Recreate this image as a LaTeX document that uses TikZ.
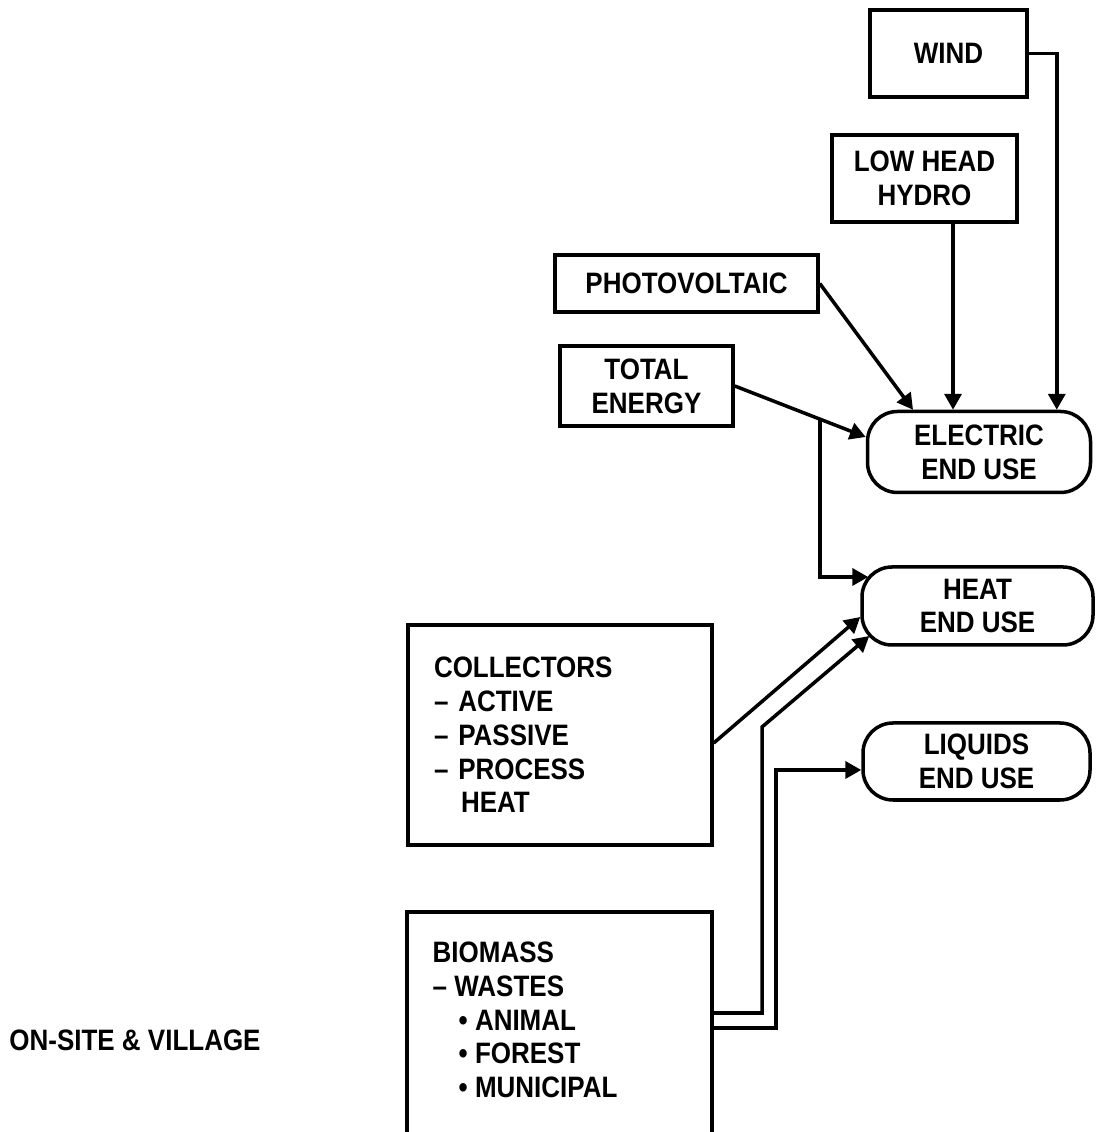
\documentclass[tikz,border=0pt]{standalone}
\usepackage{fontspec}
\setmainfont{Liberation Sans}[FakeStretch=0.88]
\usepackage{tikz}
\usetikzlibrary{arrows.meta}

\tikzset{
  srcbox/.style={draw, line width=1pt, inner sep=0pt, align=center},
  usebox/.style={draw, line width=1pt, rounded corners=0.3cm, inner sep=0pt, align=center},
  listbox/.style={draw, line width=1pt, inner xsep=0.26cm, inner ysep=0pt, text width=2.52cm, align=left},
  flow/.style={line width=1pt, -{Triangle[length=4.5pt,width=4.8pt]}},
}

\begin{document}
\begin{tikzpicture}[every node/.style={font=\bfseries\fontsize{8.4pt}{9.6pt}\selectfont}]
    \useasboundingbox (0,0) rectangle (10.96,11.32);

    % Electric sources
    \node[srcbox, minimum width=1.57cm, minimum height=0.87cm] (wind) at (9.485,10.785) {WIND};
    \node[srcbox, minimum width=1.85cm, minimum height=0.87cm] (hydro) at (9.245,9.535) {LOW HEAD\\HYDRO};
    \node[srcbox, minimum width=2.63cm, minimum height=0.57cm] (pv) at (6.865,8.485) {PHOTOVOLTAIC};
    \node[srcbox, minimum width=1.73cm, minimum height=0.80cm] (total) at (6.465,7.46) {TOTAL\\ENERGY};

    % End uses
    \node[usebox, minimum width=2.23cm, minimum height=0.81cm] (electric) at (9.79,6.80) {ELECTRIC\\END USE};
    \node[usebox, minimum width=2.31cm, minimum height=0.78cm] (heat) at (9.775,5.26) {HEAT\\END USE};
    \node[usebox, minimum width=2.27cm, minimum height=0.77cm] (liquids) at (9.765,3.705) {LIQUIDS\\END USE};

    % Collectors
    \node[listbox, minimum height=2.20cm] (collectors) at (5.60,3.97)
    {COLLECTORS\\– ACTIVE\\– PASSIVE\\– PROCESS\\\hspace*{0.27cm}HEAT};

    % Biomass (box runs off the bottom)
    \draw[line width=1pt] (4.07,0) |- (7.12,2.20) -- (7.12,0);
    \node[anchor=west, inner sep=0pt, align=left] (biomass) at (4.32,1.12)
    {BIOMASS\\– WASTES\\\hspace*{0.26cm}• ANIMAL\\\hspace*{0.26cm}• FOREST\\\hspace*{0.26cm}• MUNICIPAL};
    \coordinate (bioE1) at (7.12,1.19);
    \coordinate (bioE2) at (7.12,1.04);

    \node (onsite) at (1.35,0.92) {ON-SITE \& VILLAGE};

    % Flows into electric
    \draw[flow] (wind.east) -- ++(0.28,0) coordinate (windbend) -- (windbend |- electric.north);
    \coordinate (hydroout) at ([xshift=0.285cm]hydro.south);
    \draw[flow] (hydroout) -- (hydroout |- electric.north);
    \draw[flow] (pv.east) -- ([xshift=-0.66cm]electric.north);
    \draw[flow] (total.east) -- coordinate[pos=0.65] (tap) ([yshift=0.15cm]electric.west);

    % Flows into heat
    \draw[flow] (tap) |- ([xshift=0.08cm,yshift=0.29cm]heat.west);
    \draw[flow] ([yshift=-0.08cm]collectors.east) -- ([yshift=-0.11cm]heat.west);
    \draw[flow] (bioE1) -- ++(0.50,0) coordinate (b1) -- (b1 |- 0,4.05) -- ([xshift=0.09cm,yshift=-0.30cm]heat.west);

    % Flow into liquids
    \coordinate (liqin) at ([yshift=-0.085cm]liquids.west);
    \draw[flow] (bioE2) -- ++(0.64,0) coordinate (b2) -- (b2 |- liqin) -- (liqin);
\end{tikzpicture}
\end{document}
